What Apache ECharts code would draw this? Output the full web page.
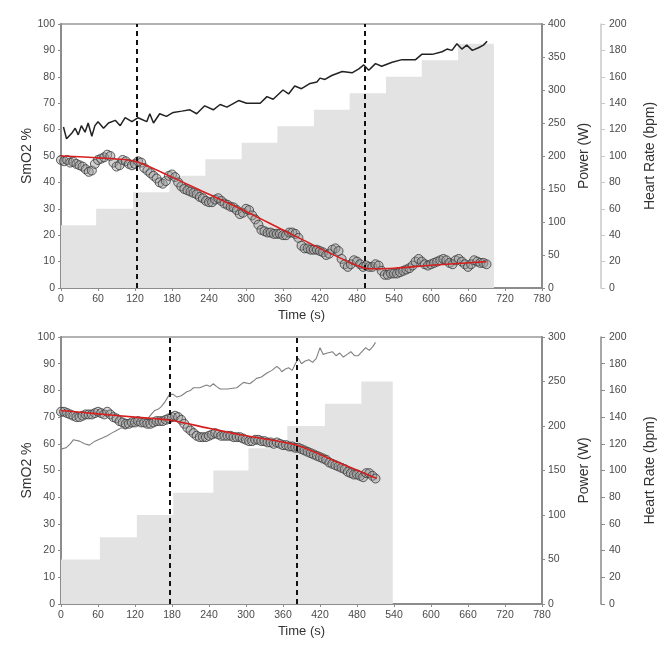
<!DOCTYPE html>
<html>
<head>
<meta charset="utf-8">
<script src="https://cdn.jsdelivr.net/npm/echarts@6/dist/echarts.min.js"></script>
<style>html,body{margin:0;padding:0;background:#fff}#c{width:664px;height:664px}</style>
</head>
<body>
<div id="c"></div>
<script>
// ---------- Data: top panel ----------
const timeTicks = [0,60,120,180,240,300,360,420,480,540,600,660,720,780];
const topPowerSteps = [[0,95],[57,120],[117,145],[176,170],[234,195],[293,220],[351,245],[410,270],[468,295],[527,320],[585,345],[644,370],[702,370]];
const topThresholds = [123, 492];
const topSmO2 = [[0,48.5],[5,48],[10,48.5],[15,47.5],[20,47.8],[25,47],[30,46.5],[35,46],[40,45],[45,44],[50,44.5],[55,47],[60,48.5],[65,49],[70,49.5],[75,50.5],[80,50],[85,47.5],[90,46],[95,46.5],[100,48.5],[105,48],[110,47],[115,46.5],[120,47],[125,48],[130,47.5],[135,45.5],[140,44.5],[145,43.5],[150,42.5],[155,41.5],[160,40],[165,39.5],[170,40.5],[175,42.5],[180,43],[185,42],[190,40],[195,38.5],[200,37.5],[205,37],[210,36.5],[215,36],[220,35.5],[225,34.5],[230,34],[235,33],[240,32.5],[245,32.5],[250,33.5],[255,34],[260,33],[265,32],[270,31.5],[275,30.8],[280,30.5],[285,29.5],[290,28],[295,28.5],[300,30],[305,29.5],[310,27.5],[315,26],[320,24],[325,22],[330,21.5],[335,21],[340,21],[345,20.5],[350,20.5],[355,20.5],[360,20],[365,20],[370,21],[375,21],[380,20.5],[385,19],[390,16],[395,15],[400,15],[405,14.5],[410,14.5],[415,14.5],[420,14],[425,13.5],[430,12.5],[435,13],[440,14.5],[445,15],[450,14],[455,11],[460,9],[465,8],[470,9],[475,10.5],[480,10],[485,9],[490,8],[495,8.5],[500,8],[505,8],[510,9],[515,8.5],[520,6.5],[525,5],[530,5],[535,5.5],[540,5.5],[545,5.5],[550,6],[555,6.5],[560,7],[565,7.5],[570,8.5],[575,10],[580,11],[585,10],[590,9],[595,8.5],[600,9],[605,9.5],[610,10],[615,10.5],[620,11],[625,10.5],[630,9.5],[635,9],[640,10.5],[645,11],[650,10],[655,9],[660,8],[665,9],[670,10.5],[675,10],[680,9.5],[685,9.5],[690,9]];
const topFit = [[0,50],[60,49.3],[120,48],[180,42],[240,35.5],[300,29],[360,22],[420,15],[480,8.5],[500,7.3],[540,7.5],[600,8.6],[650,9.4],[690,10]];
const topHR = [[4,122],[9,113],[17,117],[23,121],[28,116],[33,123],[39,118],[44,125],[50,115],[55,123],[60,126],[69,121],[77,125],[88,127],[96,123],[104,129],[115,126],[125,129],[139,126],[144,132],[150,125],[160,132],[171,130],[182,133],[196,134],[209,135],[220,132],[233,138],[247,135],[258,139],[269,137],[288,142],[301,140],[323,140],[334,145],[344,143],[360,150],[369,147],[379,153],[390,151],[404,155],[415,156],[420,159],[428,158],[439,161],[456,164],[472,163],[483,166],[491,169],[499,165],[510,170],[520,168],[537,171],[553,173],[575,173],[585,177],[602,177],[618,179],[626,181],[634,180],[642,185],[650,181],[658,184],[667,180],[677,182],[685,184],[691,187]];

// ---------- Data: bottom panel ----------
const botPowerSteps = [[0,50],[63,75],[123,100],[182,125],[247,150],[304,175],[367,200],[428,225],[487,250],[538,250]];
const botThresholds = [176, 383];
const botSmO2 = [[0,72],[5,72],[10,71.5],[15,71],[20,70.5],[25,70],[30,70],[35,70.5],[40,71],[45,71],[50,71],[55,71.5],[60,72],[65,71.5],[70,71],[75,72],[80,71],[85,70],[90,69.5],[95,68.5],[100,68],[105,67.5],[110,67.5],[115,68],[120,68],[125,68.5],[130,68],[135,68],[140,67.5],[145,67.5],[150,68],[155,68.5],[160,68.5],[165,68.5],[170,69],[175,69.5],[180,70],[185,70.5],[190,70],[195,69],[200,67.5],[205,66],[210,65],[215,64],[220,63],[225,62.5],[230,62.5],[235,62.5],[240,63],[245,63.5],[250,64],[255,63.5],[260,63],[265,63],[270,63],[275,63],[280,62.5],[285,62.5],[290,62.5],[295,62],[300,61.5],[305,61],[310,61],[315,61.5],[320,61.5],[325,61],[330,61],[335,60.5],[340,60.5],[345,60],[350,60.5],[355,60],[360,59.5],[365,59.5],[370,59],[375,59],[380,58.5],[385,58.5],[390,58],[395,57.5],[400,57],[405,56.5],[410,56],[415,55.5],[420,55],[425,54.5],[430,54],[435,53],[440,52.5],[445,52],[450,51.5],[455,51],[460,50.5],[465,49.5],[470,49],[475,48.5],[480,48.5],[485,48],[490,47.5],[495,49],[500,49],[505,48],[510,47]];
const botFit = [[0,72.5],[60,71.2],[120,70],[176,68.9],[240,65.8],[300,63],[384,59.4],[450,53],[512,47]];
const botHR = [[0,116],[8,117],[15,120],[20,123],[30,122],[38,120],[46,119],[55,122],[65,124],[75,126],[82,128],[90,130],[98,132],[105,131],[112,134],[125,137],[133,138],[141,139],[148,143],[152,145],[158,146],[163,148],[168,151],[172,154],[176,157],[182,157],[188,155],[195,156],[204,159],[210,160],[215,162],[225,162],[236,164],[242,163],[247,165],[252,163],[258,161],[270,161],[285,162],[296,166],[306,165],[312,167],[317,169],[325,170],[334,173],[342,175],[350,178],[355,176],[358,174],[364,176],[369,177],[375,175],[380,180],[385,184],[390,180],[396,182],[402,183],[408,181],[414,184],[420,192],[425,187],[432,188],[440,189],[446,186],[452,188],[458,185],[464,187],[470,189],[476,186],[482,186],[488,189],[494,192],[500,190],[506,193],[510,196]];

// ---------- Build ----------
const FONT = 'Liberation Sans, Arial, sans-serif';
const labelStyle = {color:'#4a4a4a', fontSize:10.5, fontFamily:FONT};
const nameStyle = {color:'#333', fontSize:14, fontFamily:FONT};
const axisGray = '#8c8c8c';

function xAxis(gi){
  return {type:'value', gridIndex:gi, min:0, max:780, interval:60,
    name:'Time (s)', nameLocation:'middle', nameGap:21, nameMoveOverlap:false,
    nameTextStyle:Object.assign({}, nameStyle, {fontSize:13}),
    axisLine:{lineStyle:{color:axisGray, width:2}},
    axisTick:{show:true, length:3, lineStyle:{color:axisGray}},
    axisLabel:Object.assign({margin:6}, labelStyle),
    splitLine:{show:false}};
}
function yAxes(gi, pMax, hrLineColor){
  return [
    {type:'value', gridIndex:gi, position:'left', min:0, max:100, interval:10,
      name:'SmO2 %', nameLocation:'middle', nameGap:27, nameRotate:90, nameMoveOverlap:false, nameTextStyle:nameStyle,
      axisLine:{show:true, lineStyle:{color:axisGray, width:2}},
      axisTick:{show:true, length:3, lineStyle:{color:axisGray}},
      axisLabel:Object.assign({margin:6}, labelStyle), splitLine:{show:false}},
    {type:'value', gridIndex:gi, position:'right', min:0, max:pMax, interval:50,
      name:'Power (W)', nameLocation:'middle', nameGap:35, nameRotate:90, nameMoveOverlap:false, nameTextStyle:nameStyle,
      axisLine:{show:true, lineStyle:{color:axisGray, width:2}},
      axisTick:{show:true, length:3, lineStyle:{color:axisGray}},
      axisLabel:Object.assign({margin:6}, labelStyle), splitLine:{show:false}},
    {type:'value', gridIndex:gi, position:'right', offset:59, min:0, max:200, interval:20,
      name:'Heart Rate (bpm)', nameLocation:'middle', nameGap:42, nameRotate:90, nameMoveOverlap:false, nameTextStyle:nameStyle,
      axisLine:{show:true, lineStyle:{color:hrLineColor, width:1.5}},
      axisTick:{show:true, length:4, lineStyle:{color:hrLineColor}},
      axisLabel:Object.assign({margin:8}, labelStyle), splitLine:{show:false}}
  ];
}
function panelSeries(gi, steps, smo2, fit, hr, hrColor, hrWidth, thr){
  const yb = gi*3;
  return [
    {type:'line', xAxisIndex:gi, yAxisIndex:yb+1, data:steps, step:'end', symbol:'none',
      lineStyle:{width:0, opacity:0}, areaStyle:{color:'#e3e3e3', opacity:1}, z:1, silent:true},
    {type:'line', xAxisIndex:gi, yAxisIndex:yb+2, data:hr, symbol:'none',
      lineStyle:{color:hrColor, width:hrWidth}, z:3},
    {type:'scatter', xAxisIndex:gi, yAxisIndex:yb, data:smo2, symbol:'circle', symbolSize:9,
      itemStyle:{color:'rgba(150,150,150,0.5)', borderColor:'#3a3a3a', borderWidth:1}, z:4},
    {type:'line', xAxisIndex:gi, yAxisIndex:yb, data:fit, symbol:'none', smooth:0.25,
      lineStyle:{color:'#d81e1e', width:1.6}, z:5},
    {type:'line', xAxisIndex:gi, yAxisIndex:yb, data:[], symbol:'none', z:6,
      markLine:{silent:true, symbol:'none', label:{show:false},
        lineStyle:{color:'#111', type:[5,4], width:2},
        data:thr.map(t=>({xAxis:t}))}}
  ];
}

const chart = echarts.init(document.getElementById('c'));
chart.setOption({
  animation:false,
  backgroundColor:'#fff',
  grid:[
    {left:61, top:24, width:481, height:264, show:true, borderColor:'#999', borderWidth:1.5, containLabel:false, outerBoundsMode:'none'},
    {left:61, top:337, width:481, height:267, show:true, borderColor:'#999', borderWidth:1.5, containLabel:false, outerBoundsMode:'none'}
  ],
  xAxis:[xAxis(0), xAxis(1)],
  yAxis:[].concat(yAxes(0,400,'#c8c8c8'), yAxes(1,300,'#8a8a8a')),
  series:[].concat(
    panelSeries(0, topPowerSteps, topSmO2, topFit, topHR, '#222', 1.5, topThresholds),
    panelSeries(1, botPowerSteps, botSmO2, botFit, botHR, '#808080', 1.1, botThresholds)
  )
});
</script>
</body>
</html>
